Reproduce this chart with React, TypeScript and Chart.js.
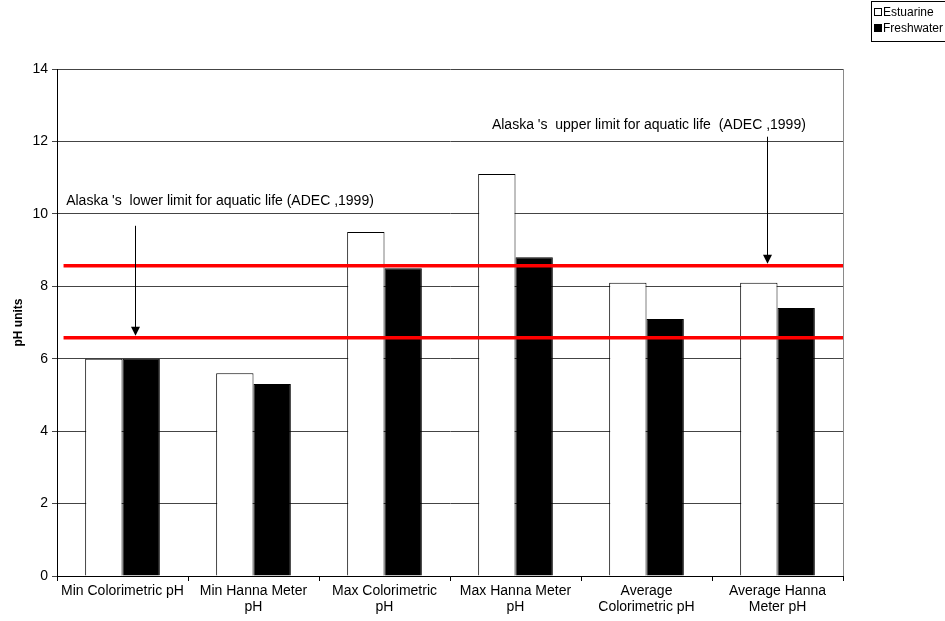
import React, { useEffect, useRef } from "react";
import { Chart, registerables } from "chart.js";

Chart.register(...registerables);

// Categories (multi-line tick labels)
const categories: string[][] = [
  ["Min Colorimetric pH"],
  ["Min Hanna Meter", "pH"],
  ["Max Colorimetric", "pH"],
  ["Max Hanna Meter", "pH"],
  ["Average", "Colorimetric pH"],
  ["Average Hanna", "Meter pH"],
];

// pH values per site type
const estuarine = [6.0, 5.6, 9.5, 11.1, 8.1, 8.1];
const freshwater = [6.0, 5.3, 8.5, 8.8, 7.1, 7.4];

// Axis range
const yMin = 0;
const yMax = 14;
const yStep = 2;

// Reference limit lines (pH)
const lowerLimit = 6.58;
const upperLimit = 8.57;

// Annotation notes
const lowerNote = "Alaska 's  lower limit for aquatic life (ADEC ,1999)";
const upperNote = "Alaska 's  upper limit for aquatic life  (ADEC ,1999)";

const FONT = "'Liberation Sans', Arial, sans-serif";

const overlayPlugin = {
  id: "overlay",
  afterDatasetsDraw(chart: any) {
    const { ctx, chartArea, scales } = chart;
    const x = scales.x;
    const y = scales.y;
    ctx.save();

    // right frame edge
    ctx.strokeStyle = "#8a8a8a";
    ctx.lineWidth = 1;
    ctx.beginPath();
    ctx.moveTo(Math.round(chartArea.right) + 0.5, chartArea.top);
    ctx.lineTo(Math.round(chartArea.right) + 0.5, chartArea.bottom);
    ctx.stroke();

    // limit lines
    const lineStart = x.getPixelForValue(-0.45);
    ctx.strokeStyle = "#ff0000";
    ctx.lineWidth = 3.5;
    for (const v of [lowerLimit, upperLimit]) {
      const py = y.getPixelForValue(v);
      ctx.beginPath();
      ctx.moveTo(lineStart, py);
      ctx.lineTo(chartArea.right, py);
      ctx.stroke();
    }

    // notes with arrows
    const notes = [
      { text: lowerNote, tx: -0.43, ty: 10.36, ax: 0.1, ay: 9.67, tip: lowerLimit },
      { text: upperNote, tx: 2.82, ty: 12.45, ax: 4.93, ay: 12.13, tip: upperLimit },
    ];
    ctx.fillStyle = "#000";
    ctx.strokeStyle = "#000";
    ctx.lineWidth = 1;
    ctx.font = `14px ${FONT}`;
    ctx.textBaseline = "middle";
    ctx.textAlign = "left";
    for (const n of notes) {
      ctx.fillText(n.text, x.getPixelForValue(n.tx), y.getPixelForValue(n.ty));
      const axp = Math.round(x.getPixelForValue(n.ax)) - 0.5;
      const top = y.getPixelForValue(n.ay);
      const tipY = y.getPixelForValue(n.tip) - 2;
      ctx.beginPath();
      ctx.moveTo(axp, top);
      ctx.lineTo(axp, tipY - 8);
      ctx.stroke();
      ctx.beginPath();
      ctx.moveTo(axp - 4.5, tipY - 9);
      ctx.lineTo(axp + 4.5, tipY - 9);
      ctx.lineTo(axp, tipY);
      ctx.closePath();
      ctx.fill();
    }
    ctx.restore();
  },
  afterDraw(chart: any) {
    const { ctx } = chart;
    ctx.save();
    // legend box
    ctx.strokeStyle = "#000";
    ctx.lineWidth = 1;
    ctx.strokeRect(871.5, 1.5, 80, 40);
    const items = [
      { label: chart.data.datasets[0].label, fill: "#ffffff", cy: 12 },
      { label: chart.data.datasets[1].label, fill: "#000000", cy: 28 },
    ];
    ctx.font = `12px ${FONT}`;
    ctx.textBaseline = "middle";
    ctx.textAlign = "left";
    for (const it of items) {
      ctx.fillStyle = it.fill;
      ctx.fillRect(874.5, it.cy - 3.5, 7, 7);
      ctx.strokeRect(874.5, it.cy - 3.5, 7, 7);
      ctx.fillStyle = "#000";
      ctx.fillText(it.label, 883, it.cy + 0.5);
    }
    ctx.restore();
  },
};

export default function App() {
  const canvasRef = useRef<HTMLCanvasElement | null>(null);

  useEffect(() => {
    if (!canvasRef.current) return;
    const chart = new Chart(canvasRef.current, {
      type: "bar",
      data: {
        labels: categories,
        datasets: [
          {
            label: "Estuarine",
            data: estuarine,
            backgroundColor: "#ffffff",
            borderColor: "#000000",
            borderWidth: 1,
          },
          {
            label: "Freshwater",
            data: freshwater,
            backgroundColor: "#000000",
            borderColor: "#000000",
            borderWidth: 1,
          },
        ],
      },
      options: {
        animation: false,
        responsive: false,
        maintainAspectRatio: false,
        devicePixelRatio: 1,
        layout: { padding: { top: 69, right: 102, left: 0, bottom: 0 } },
        datasets: {
          bar: { categoryPercentage: 0.57, barPercentage: 1.0 },
        },
        plugins: {
          legend: { display: false },
          tooltip: { enabled: false },
        },
        scales: {
          x: {
            grid: {
              display: true,
              drawOnChartArea: false,
              offset: true,
              tickLength: 5,
              color: "#000",
            },
            border: { display: true, color: "#000", width: 1 },
            ticks: {
              color: "#000",
              font: { family: FONT, size: 14, lineHeight: 1.15 },
              padding: 2,
              maxRotation: 0,
              autoSkip: false,
            },
            afterFit: (s: any) => {
              s.height = 45;
            },
          },
          y: {
            min: yMin,
            max: yMax,
            grid: { color: "#444444", tickLength: 5, lineWidth: 1 },
            border: { display: true, color: "#000", width: 1 },
            ticks: {
              stepSize: yStep,
              color: "#000",
              font: { family: FONT, size: 14 },
              padding: 4,
            },
            title: {
              display: true,
              text: "pH units",
              color: "#000",
              font: { family: FONT, size: 12, weight: "bold" },
              padding: { top: 11, bottom: 0 },
            },
            afterFit: (s: any) => {
              s.width = 57;
            },
          },
        },
      },
      plugins: [overlayPlugin],
    });
    return () => chart.destroy();
  }, []);

  return (
    <div style={{ position: "absolute", left: 0, top: 0, width: 945, height: 621, background: "#fff" }}>
      <canvas ref={canvasRef} width={945} height={621} />
    </div>
  );
}
